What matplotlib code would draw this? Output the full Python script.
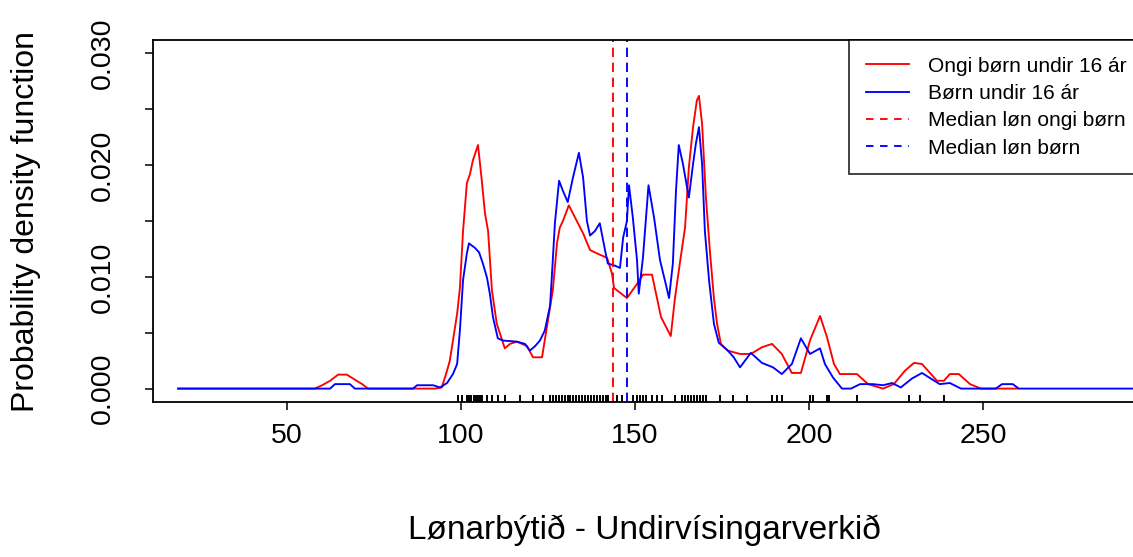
import matplotlib
matplotlib.use("Agg")
import matplotlib.pyplot as plt
import matplotlib.transforms as mtransforms
from matplotlib.lines import Line2D

plt.rcParams["font.family"] = ["Liberation Sans", "DejaVu Sans"]

# density curve: no children under 16
x_ongi = [18.7, 58.0, 60.1, 62.4, 64.7, 67.2, 69.5, 71.6, 73.3, 92.5, 94.5, 96.0, 96.8,
          97.7, 98.9, 99.7, 100.6, 101.7, 102.6, 103.4, 104.9, 106.0, 106.9, 107.8, 108.9,
          110.3, 112.6, 114.1, 116.1, 119.0, 120.7, 123.3, 125.0, 126.4, 127.6, 128.4,
          129.3, 131.0, 133.3, 135.1, 137.1, 139.1, 142.0, 143.4, 144.0, 147.7, 150.9,
          152.3, 154.9, 157.5, 160.3, 161.5, 162.9, 164.4, 165.5, 166.7, 167.8, 168.4,
          169.3, 170.4, 171.6, 172.7, 173.6, 174.7, 176.7, 180.2, 183.3, 186.5, 189.4,
          192.2, 195.1, 197.7, 200.3, 203.2, 205.2, 207.2, 208.9, 213.8, 217.0, 221.3,
          224.4, 227.6, 230.2, 232.5, 236.8, 238.8, 240.5, 243.1, 246.3, 249.4, 260.1]
y_ongi = [0.0, 0.0, 0.0003, 0.0007, 0.00125, 0.00125, 0.0008, 0.0004, 0.0, 0.0, 0.0001,
          0.0016, 0.0025, 0.0043, 0.0067, 0.0090, 0.0141, 0.0184, 0.0192, 0.0204, 0.0218,
          0.0186, 0.0157, 0.0141, 0.0088, 0.0058, 0.0036, 0.0040, 0.0042, 0.0038, 0.0028,
          0.0028, 0.0061, 0.0088, 0.0130, 0.0144, 0.0150, 0.0164, 0.0150, 0.0139, 0.0124,
          0.0121, 0.0117, 0.0103, 0.0090, 0.0081, 0.0095, 0.0102, 0.0102, 0.0064, 0.0047,
          0.0081, 0.0112, 0.0144, 0.0198, 0.0234, 0.0258, 0.0262, 0.0237, 0.0171, 0.0121,
          0.0081, 0.0058, 0.0040, 0.0034, 0.0031, 0.0031, 0.0037, 0.0040, 0.0031, 0.0014,
          0.0014, 0.0043, 0.0065, 0.0046, 0.0022, 0.0013, 0.0013, 0.0004, 0.0, 0.0004,
          0.0016, 0.0023, 0.0022, 0.0007, 0.0007, 0.0013, 0.0013, 0.0004, 0.0, 0.0]

# density curve: children under 16
x_born = [18.7, 62.4, 63.8, 68.1, 69.5, 86.2, 87.4, 92.0, 94.0, 96.0, 97.7, 98.9, 99.7,
          100.6, 101.7, 102.3, 104.0, 105.2, 106.3, 107.5, 108.3, 109.2, 110.6, 112.1,
          116.1, 118.4, 119.8, 121.3, 122.7, 124.1, 125.6, 126.1, 127.0, 128.2, 129.3,
          130.7, 132.2, 133.9, 135.1, 136.2, 137.1, 138.5, 139.9, 141.4, 142.2, 144.3,
          145.7, 146.6, 147.7, 148.3, 149.4, 150.6, 151.1, 152.3, 153.9, 155.5, 157.2,
          158.6, 159.8, 160.9, 161.8, 162.6, 163.8, 165.5, 166.7, 167.5, 168.4, 169.3,
          170.1, 171.3, 172.7, 174.1, 176.7, 178.4, 180.2, 183.3, 186.5, 189.7, 192.2,
          195.1, 197.7, 200.3, 203.2, 204.6, 206.9, 209.5, 212.1, 214.7, 218.4, 221.3,
          223.9, 226.4, 229.6, 232.5, 234.5, 237.6, 240.5, 243.7, 253.7, 255.5, 258.6,
          260.3, 330.0]
y_born = [0.0, 0.0, 0.0004, 0.0004, 0.0, 0.0, 0.0003, 0.0003, 0.0001, 0.0005, 0.0013,
          0.0022, 0.0052, 0.0097, 0.0121, 0.0130, 0.0126, 0.0122, 0.0112, 0.0099, 0.0085,
          0.0064, 0.0045, 0.0043, 0.0042, 0.0040, 0.0034, 0.0038, 0.0043, 0.0052, 0.0074,
          0.0099, 0.0148, 0.0186, 0.0177, 0.0167, 0.0189, 0.0211, 0.0189, 0.0150, 0.0137,
          0.0141, 0.0148, 0.0124, 0.0112, 0.0110, 0.0108, 0.0135, 0.0150, 0.0182, 0.0153,
          0.0115, 0.0085, 0.0117, 0.0182, 0.0153, 0.0115, 0.0097, 0.0081, 0.0112, 0.0177,
          0.0218, 0.0201, 0.0171, 0.0201, 0.0219, 0.0234, 0.0201, 0.0141, 0.0097, 0.0058,
          0.0041, 0.0034, 0.0028, 0.0019, 0.0032, 0.0023, 0.0019, 0.0013, 0.0022, 0.0045,
          0.0031, 0.0036, 0.0022, 0.0010, 0.0, 0.0, 0.0004, 0.0004, 0.0003, 0.0005, 0.0001,
          0.0009, 0.0014, 0.0010, 0.0004, 0.0005, 0.0, 0.0, 0.0004, 0.0004, 0.0, 0.0]

median_ongi = 143.7
median_born = 147.7

# observations shown as a rug
rug = [99.1, 100.3, 101.7, 102.3, 102.9, 103.7, 104.3, 104.9, 105.5, 106.0, 107.5, 108.9,
       110.6, 112.6, 117.0, 120.7, 123.6, 125.6, 126.4, 127.3, 128.2, 129.0, 129.9, 130.7,
       131.3, 132.2, 133.0, 133.9, 134.8, 135.6, 136.5, 137.4, 138.2, 139.1, 139.9, 140.8,
       141.7, 142.2, 144.8, 146.3, 149.4, 150.6, 151.4, 152.3, 153.2, 154.9, 156.3, 157.8,
       161.5, 163.5, 164.4, 165.2, 166.1, 167.0, 167.8, 168.7, 169.5, 170.4, 174.4, 178.2,
       182.2, 189.4, 190.8, 192.2, 200.3, 201.1, 205.2, 205.7, 213.8, 228.7, 231.9, 238.8]

x_ticks = [50, 100, 150, 200, 250]
y_ticks = [0.0, 0.005, 0.010, 0.015, 0.020, 0.025, 0.030]
y_ticklabels = ["0.000", "", "0.010", "", "0.020", "", "0.030"]

legend_labels = ["Ongi børn undir 16 ár", "Børn undir 16 ár",
                 "Median løn ongi børn", "Median løn børn"]

W, H = 1133, 557
fig = plt.figure(figsize=(W / 100, H / 100), dpi=100)
ax = fig.add_axes([153 / W, 1 - 402 / H, (1136 - 153) / W, 362 / H])

LW = 1.35
ax.plot(x_ongi, y_ongi, color="#FF0000", lw=LW)
ax.plot(x_born, y_born, color="#0000FF", lw=LW)
ax.axvline(median_ongi, color="#FF0000", lw=LW, dashes=(5, 3))
ax.axvline(median_born, color="#0000FF", lw=LW, dashes=(5, 3))

trans = mtransforms.blended_transform_factory(ax.transData, ax.transAxes)
ax.vlines(rug, 0, 0.02, transform=trans, color="black", lw=1.4)

ax.set_xlim(11.5, 294)
ax.set_ylim(-0.0012, 0.0312)
ax.set_xticks(x_ticks)
ax.set_xticklabels([str(t) for t in x_ticks])
ax.set_yticks(y_ticks)
ax.set_yticklabels(y_ticklabels, rotation=90, va="center")
ax.tick_params(axis="both", labelsize=20.5, length=6, width=1.1, color="black")
ax.tick_params(axis="x", pad=9)
ax.tick_params(axis="y", pad=21)
for s in ax.spines.values():
    s.set_linewidth(1.3)
    s.set_color("black")

ax.set_xlabel("Lønarbýtið - Undirvísingarverkið", fontsize=24)
ax.set_ylabel("Probability density function", fontsize=23)
ax.xaxis.set_label_coords(0.5, -(530 - 402) / 362)
ax.yaxis.set_label_coords((26 - 153) / 983, 0.5)
ax.xaxis.label.set_va("center")
ax.yaxis.label.set_va("center")

handles = [Line2D([], [], color="#FF0000", lw=LW),
           Line2D([], [], color="#0000FF", lw=LW),
           Line2D([], [], color="#FF0000", lw=LW, dashes=(4, 3.5)),
           Line2D([], [], color="#0000FF", lw=LW, dashes=(4, 3.5))]
leg = ax.legend(handles, legend_labels, loc="upper left",
                bbox_to_anchor=(849 / W, 1 - 40 / H), bbox_transform=fig.transFigure,
                fontsize=15, frameon=True, fancybox=False, borderaxespad=0,
                borderpad=0.8, handlelength=2.1, handletextpad=0.9, labelspacing=0.4)
leg.get_frame().set_edgecolor("black")
leg.get_frame().set_linewidth(1.3)

fig.savefig("out.png", dpi=100)
